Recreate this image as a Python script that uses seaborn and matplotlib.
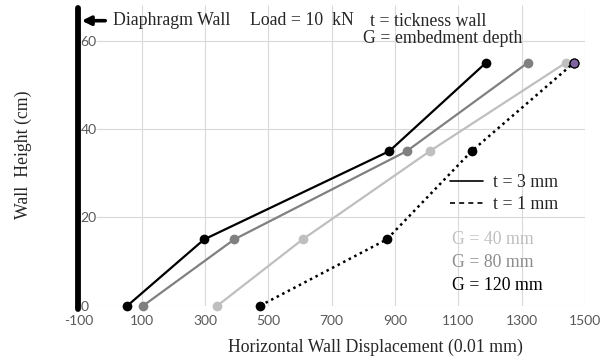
import matplotlib
matplotlib.use("Agg")
import matplotlib.pyplot as plt
from matplotlib.lines import Line2D
import seaborn as sns
import numpy as np

# ---- data ----
heights = [0, 15, 35, 55]
disp_g40 = [339, 608, 1010, 1439]
disp_g80 = [105, 392, 937, 1319]
disp_g120 = [55, 297, 882, 1187]
disp_t1 = [474, 874, 1142, 1465]
x_ticks = [-100, 100, 300, 500, 700, 900, 1100, 1300, 1500]
y_ticks = [0, 20, 40, 60]
wall_x = -100

sns.set_style("white")
plt.rcParams['font.family'] = ['Liberation Serif', 'DejaVu Serif']
plt.rcParams['axes.unicode_minus'] = False

W, H = 613, 358
fig = plt.figure(figsize=(W / 100, H / 100), dpi=100)

def fx(px):
    return px / W

def fy(py):
    return 1 - py / H

ax_l, ax_r, ax_b, ax_t = 78.3, 585.0, 305.7, 5.0
ax = fig.add_axes([fx(ax_l), fy(ax_b), fx(ax_r - ax_l), (ax_b - ax_t) / H])
ax.set_xlim(-100, 1500)
ax.set_ylim(0, 68.1)
for s in ax.spines.values():
    s.set_visible(False)

grid_c = '#d9d9d9'
# vertical gridlines
ax.vlines(x_ticks[1:], 0, 68.1, color=grid_c, lw=0.8, zorder=0)
# horizontal gridlines
ax.hlines(y_ticks, -44, 1500, color=grid_c, lw=0.8, zorder=0)

ax.set_xticks(x_ticks)
ax.set_yticks(y_ticks)
ax.tick_params(axis='both', length=0, labelcolor='#595959', labelsize=10)
ax.tick_params(axis='x', pad=7)
ax.tick_params(axis='y', pad=-1.5)
for lab in ax.get_yticklabels():
    lab.set_horizontalalignment('left')
for lab in ax.get_xticklabels() + ax.get_yticklabels():
    lab.set_fontfamily('Lato')

lw = 1.6
ms = 7
sns.lineplot(x=disp_g40, y=heights, sort=False, estimator=None, color='#bfbfbf',
             lw=lw, marker='o', markersize=ms, markeredgewidth=0, clip_on=False, ax=ax, zorder=3)
sns.lineplot(x=disp_g80, y=heights, sort=False, estimator=None, color='#808080',
             lw=lw, marker='o', markersize=ms, markeredgewidth=0, clip_on=False, ax=ax, zorder=3)
sns.lineplot(x=disp_g120, y=heights, sort=False, estimator=None, color='black',
             lw=lw, marker='o', markersize=ms, markeredgewidth=0, clip_on=False, ax=ax, zorder=4)
sns.lineplot(x=disp_t1, y=heights, sort=False, estimator=None, color='black',
             lw=1.8, linestyle=(0, (1, 1.5)), marker='o', markersize=ms, markeredgewidth=0,
             clip_on=False, ax=ax, zorder=4)
ax.plot(disp_t1[-1:], heights[-1:], marker='o', markersize=6.5, markerfacecolor='#8064a2',
        markeredgecolor='black', markeredgewidth=0.9, linestyle='none', zorder=5, clip_on=False)

ax.set_xlabel('')
ax.set_ylabel('')

# diaphragm wall
ax.axvline(wall_x, ymin=-0.01, ymax=0.99, color='black', lw=4.2, clip_on=False, zorder=6)

fs = 12.8
fig.text(fx(375), fy(347), 'Horizontal Wall Displacement (0.01 mm)', ha='center', va='center', fontsize=fs)
fig.text(fx(23), fy(155), 'Wall  Height (cm)', ha='center', va='center', rotation=90, fontsize=fs)

# annotations at top
fig.text(fx(113), fy(20.7), 'Diaphragm Wall', ha='left', va='center', fontsize=fs)
fig.text(fx(250), fy(20.7), 'Load = 10  kN', ha='left', va='center', fontsize=fs)
fig.text(fx(370), fy(21), 't = tickness wall', ha='left', va='center', fontsize=fs)
fig.text(fx(363), fy(38.3), 'G = embedment depth', ha='left', va='center', fontsize=fs)
fig.add_artist(matplotlib.patches.FancyArrowPatch(
    (fx(108), fy(20.7)), (fx(79), fy(20.7)), transform=fig.transFigure,
    arrowstyle='-|>', mutation_scale=13, lw=2.6, color='black'))

# legend for wall thickness
handles = [Line2D([], [], color='black', lw=1.2),
           Line2D([], [], color='black', lw=1.2, ls=(0, (3, 2.5)))]
fig.legend(handles, ['t = 3 mm', 't = 1 mm'], loc='upper left',
           bbox_to_anchor=(fx(450), fy(174)), frameon=False, borderpad=0,
           borderaxespad=0, handlelength=1.85, handletextpad=0.56, labelspacing=0.28,
           prop={'family': 'Liberation Serif', 'size': fs})

fig.text(fx(452), fy(240), 'G = 40 mm', ha='left', va='center', fontsize=fs, color='#bfbfbf')
fig.text(fx(452), fy(262.7), 'G = 80 mm', ha='left', va='center', fontsize=fs, color='#8c8c8c')
fig.text(fx(452), fy(285), 'G = 120 mm', ha='left', va='center', fontsize=fs, color='black')

fig.savefig('out.png', dpi=100)
